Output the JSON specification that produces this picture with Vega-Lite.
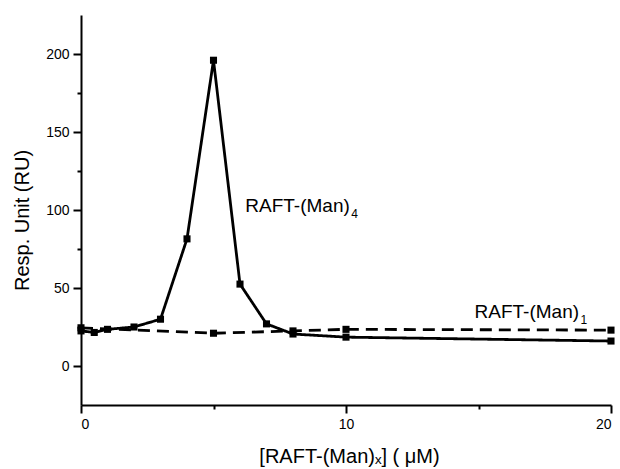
{
  "$schema": "https://vega.github.io/schema/vega-lite/v6.json",
  "width": 530,
  "height": 390,
  "autosize": "none",
  "padding": {"left": 81, "top": 15, "right": 9, "bottom": 64},
  "background": "white",
  "config": {
    "view": {"stroke": null},
    "font": "Liberation Sans",
    "axis": {
      "domainColor": "black",
      "domainWidth": 2,
      "tickColor": "black",
      "tickWidth": 2,
      "labelColor": "black",
      "labelFont": "Liberation Sans",
      "labelFontSize": 14,
      "titleFont": "Liberation Sans",
      "titleFontSize": 20,
      "titleFontWeight": "normal",
      "titleColor": "black",
      "grid": false
    }
  },
  "datasets": {
    "series": [
      {"series": "Man4", "conc": 0, "ru": 22.5},
      {"series": "Man4", "conc": 0.5, "ru": 21.5},
      {"series": "Man4", "conc": 1, "ru": 23.5},
      {"series": "Man4", "conc": 2, "ru": 25},
      {"series": "Man4", "conc": 3, "ru": 30},
      {"series": "Man4", "conc": 4, "ru": 81.5},
      {"series": "Man4", "conc": 5, "ru": 196},
      {"series": "Man4", "conc": 6, "ru": 52.5},
      {"series": "Man4", "conc": 7, "ru": 27},
      {"series": "Man4", "conc": 8, "ru": 20.5},
      {"series": "Man4", "conc": 10, "ru": 18.5},
      {"series": "Man4", "conc": 20, "ru": 16},
      {"series": "Man1", "conc": 0, "ru": 24.5},
      {"series": "Man1", "conc": 5, "ru": 21},
      {"series": "Man1", "conc": 8, "ru": 22.5},
      {"series": "Man1", "conc": 10, "ru": 23.5},
      {"series": "Man1", "conc": 20, "ru": 23}
    ],
    "labels": [
      {"conc": 6.2, "ru": 99, "main": "RAFT-(Man)", "sub": "4"},
      {"conc": 14.85, "ru": 31, "main": "RAFT-(Man)", "sub": "1"}
    ]
  },
  "layer": [
    {
      "data": {"name": "series"},
      "mark": {"type": "line", "strokeWidth": 2.8, "color": "black"},
      "encoding": {
        "x": {
          "field": "conc", "type": "quantitative",
          "scale": {"domain": [0, 20], "nice": false, "zero": false},
          "axis": {
            "values": [0, 5, 10, 15, 20],
            "tickSize": {"condition": {"test": "datum.value % 10 === 0", "value": 8}, "value": 4},
            "labelExpr": "datum.value % 10 === 0 ? datum.label : ''",
            "labelPadding": 4,
            "title": "[RAFT-(Man)ₓ] ( μM)",
            "titleX": 268,
            "titleY": 57,
            "titleBaseline": "alphabetic",
            "titleAnchor": null
          }
        },
        "y": {
          "field": "ru", "type": "quantitative",
          "scale": {"domain": [-25, 225], "nice": false, "zero": false},
          "axis": {
            "values": [0, 25, 50, 75, 100, 125, 150, 175, 200],
            "tickSize": {"condition": {"test": "datum.value % 50 === 0", "value": 8}, "value": 4},
            "labelExpr": "datum.value % 50 === 0 ? datum.label : ''",
            "labelPadding": 4,
            "title": "Resp. Unit (RU)",
            "titleX": -59,
            "titleY": 205,
            "titleAngle": -90,
            "titleAlign": "center",
            "titleBaseline": "middle"
          }
        },
        "detail": {"field": "series"},
        "strokeDash": {
          "field": "series", "type": "nominal",
          "scale": {"domain": ["Man4", "Man1"], "range": [[1, 0], [12, 7]]},
          "legend": null
        }
      }
    },
    {
      "data": {"name": "series"},
      "mark": {"type": "point", "shape": "square", "filled": true, "size": 50, "color": "black", "fill": "black", "opacity": 1},
      "encoding": {
        "x": {"field": "conc", "type": "quantitative"},
        "y": {"field": "ru", "type": "quantitative"}
      }
    },
    {
      "data": {"name": "labels"},
      "mark": {"type": "text", "align": "left", "baseline": "alphabetic", "fontSize": 19, "font": "Liberation Sans", "fill": "black"},
      "encoding": {
        "x": {"field": "conc", "type": "quantitative"},
        "y": {"field": "ru", "type": "quantitative"},
        "text": {"field": "main"}
      }
    },
    {
      "data": {"name": "labels"},
      "mark": {"type": "text", "align": "left", "baseline": "alphabetic", "fontSize": 12, "font": "Liberation Sans", "fill": "black", "dx": 106, "dy": 6},
      "encoding": {
        "x": {"field": "conc", "type": "quantitative"},
        "y": {"field": "ru", "type": "quantitative"},
        "text": {"field": "sub"}
      }
    }
  ]
}
